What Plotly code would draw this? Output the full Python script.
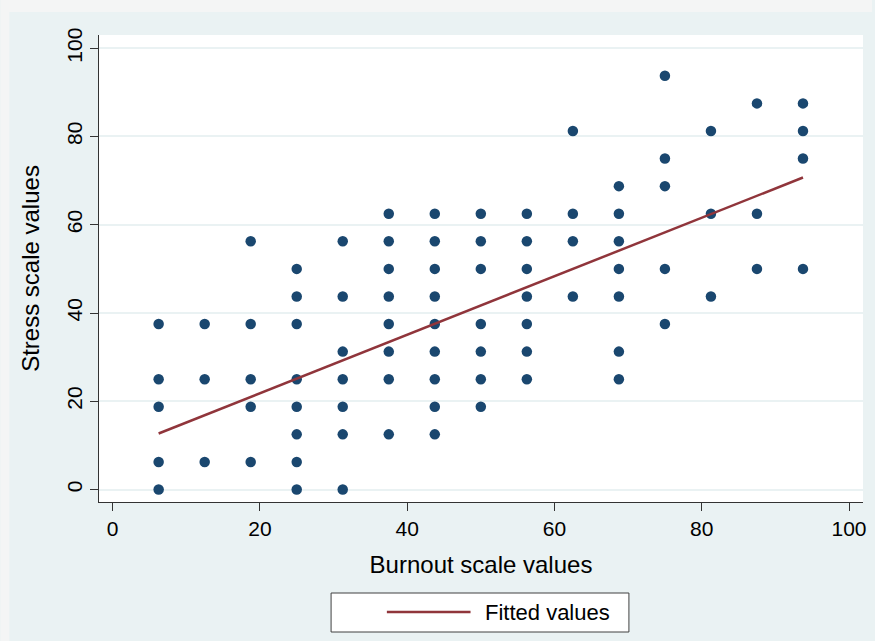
import plotly.graph_objects as go

# ── DATA ──────────────────────────────────────────────────────────────────────
# each scatter point: burnout score (x) and stress score (y), read column by column
burnout = (
    [6.25] * 5 + [12.5] * 3 + [18.75] * 5 + [25.0] * 8 + [31.25] * 7
    + [37.5] * 8 + [43.75] * 9 + [50.0] * 7 + [56.25] * 7 + [62.5] * 4
    + [68.75] * 7 + [75.0] * 5 + [81.25] * 3 + [87.5] * 3 + [93.75] * 4
)
stress = [
    0, 6.25, 18.75, 25, 37.5,                                  # 6.25
    6.25, 25, 37.5,                                            # 12.5
    6.25, 18.75, 25, 37.5, 56.25,                              # 18.75
    0, 6.25, 12.5, 18.75, 25, 37.5, 43.75, 50,                 # 25
    0, 12.5, 18.75, 25, 31.25, 43.75, 56.25,                   # 31.25
    12.5, 25, 31.25, 37.5, 43.75, 50, 56.25, 62.5,             # 37.5
    12.5, 18.75, 25, 31.25, 37.5, 43.75, 50, 56.25, 62.5,      # 43.75
    18.75, 25, 31.25, 37.5, 50, 56.25, 62.5,                   # 50
    25, 31.25, 37.5, 43.75, 50, 56.25, 62.5,                   # 56.25
    43.75, 56.25, 62.5, 81.25,                                 # 62.5
    25, 31.25, 43.75, 50, 56.25, 62.5, 68.75,                  # 68.75
    37.5, 50, 68.75, 75, 93.75,                                # 75
    43.75, 62.5, 81.25,                                        # 81.25
    50, 62.5, 87.5,                                            # 87.5
    50, 75, 81.25, 87.5,                                       # 93.75
]

# fitted regression line, values at the smallest and largest burnout score
fit_x = [6.25, 93.75]
fit_y = [12.7, 70.7]

x_ticks = [0, 20, 40, 60, 80, 100]
y_ticks = [0, 20, 40, 60, 80, 100]

# ── STYLE ─────────────────────────────────────────────────────────────────────
W, H = 875, 641
ML, MR, MT, MB = 99, 9, 35, 139
BG = "#eaf2f3"
NAVY = "#1a476f"
MAROON = "#90353b"
FONT = "Liberation Sans, Arial, sans-serif"

PW = W - ML - MR
PH = H - MT - MB


def px(x):  # pixel -> paper x
    return (x - ML) / PW


def py(y):  # pixel -> paper y
    return (H - MB - y) / PH


fig = go.Figure()

fig.add_trace(go.Scatter(
    x=burnout, y=stress, mode="markers", name="Stress scale values",
    marker=dict(color=NAVY, size=10.5), showlegend=False,
))
fig.add_trace(go.Scatter(
    x=fit_x, y=fit_y, mode="lines", name="Fitted values",
    line=dict(color=MAROON, width=2.5), showlegend=False,
))

fig.update_xaxes(
    range=[-1.85, 101.9], tickvals=x_ticks, showgrid=False, zeroline=False,
    showline=True, linecolor="#333333", linewidth=1,
    ticks="outside", ticklen=8, tickcolor="#333333",
    tickfont=dict(size=21, color="black", family=FONT),
    title=dict(text="Burnout scale values", standoff=16,
               font=dict(size=24, color="black", family=FONT)),
)
fig.update_yaxes(
    range=[-2.83, 103.0], tickvals=y_ticks, zeroline=False,
    showgrid=True, gridcolor=BG, gridwidth=2,
    showline=True, linecolor="#333333", linewidth=1,
    ticks="outside", ticklen=8, tickcolor="#333333", tickangle=-90,
    tickfont=dict(size=21, color="black", family=FONT),
    title=dict(text="Stress scale values", standoff=16,
               font=dict(size=24, color="black", family=FONT)),
)

shapes = [
    # shadow strips round the graph region
    dict(type="rect", xref="paper", yref="paper", layer="above",
         x0=px(0), x1=px(W), y0=py(12), y1=py(0),
         fillcolor="#f4f5f5", line_width=0),
    dict(type="rect", xref="paper", yref="paper", layer="above",
         x0=px(0), x1=px(9), y0=py(H), y1=py(12),
         fillcolor="#f4f5f5", line_width=0),
    # legend box and key
    dict(type="rect", xref="paper", yref="paper",
         x0=px(332), x1=px(631), y0=py(632), y1=py(593),
         fillcolor="white", line=dict(color="#404040", width=1)),
    dict(type="line", xref="paper", yref="paper",
         x0=px(388), x1=px(472), y0=py(612), y1=py(612),
         line=dict(color=MAROON, width=2.5)),
]

fig.update_layout(
    width=W, height=H, autosize=False,
    margin=dict(l=ML, r=MR, t=MT, b=MB),
    paper_bgcolor=BG, plot_bgcolor="white",
    font=dict(family=FONT, color="black"),
    shapes=shapes,
    annotations=[dict(
        text="Fitted values", xref="paper", yref="paper",
        x=px(485), y=py(612), xanchor="left", yanchor="middle",
        showarrow=False, font=dict(size=22, color="black", family=FONT),
    )],
)

# drop the browser's default page margin so the figure sits at the top-left
fig.write_html("out.html", config={"displayModeBar": False},
               post_script="document.body.style.margin='0';")
